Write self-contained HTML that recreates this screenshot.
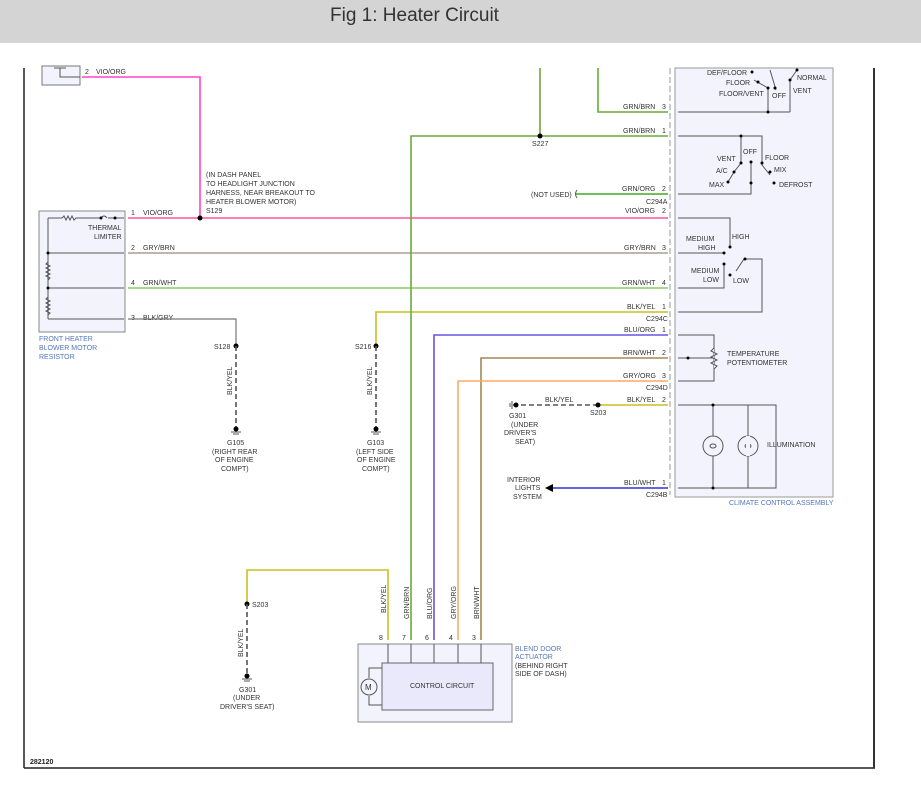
<!DOCTYPE html>
<html><head><meta charset="utf-8"><style>
html,body{margin:0;padding:0;background:#fff;}
svg{display:block;font-family:"Liberation Sans",sans-serif;}
.t{font-size:7px;fill:#333;}
.b{font-size:7px;fill:#5577bb;}
.w{fill:none;stroke-width:1.6;}
.k{fill:none;stroke:#555;stroke-width:1;}
</style></head><body>
<svg width="921" height="794" viewBox="0 0 921 794" xmlns="http://www.w3.org/2000/svg">
<rect x="0" y="0" width="921" height="43" fill="#d4d4d4"/>
<text x="330" y="21" font-size="19" fill="#333">Fig 1: Heater Circuit</text>
<!-- frame -->
<line x1="24" y1="68" x2="24" y2="768" stroke="#222" stroke-width="1.5"/>
<line x1="24" y1="768" x2="875" y2="768" stroke="#222" stroke-width="1.5"/>
<line x1="874" y1="68" x2="874" y2="768" stroke="#333" stroke-width="2"/>
<text x="30" y="764" font-size="7" font-weight="bold" fill="#222">282120</text>

<!-- climate control assembly -->
<rect x="675" y="68" width="158" height="429" fill="#f3f3fd" stroke="#999" stroke-width="1"/>
<line x1="670" y1="68" x2="670" y2="495" stroke="#999" stroke-dasharray="6,3"/>
<text x="729" y="505" class="b">CLIMATE CONTROL ASSEMBLY</text>

<!-- top left box -->
<rect x="42" y="66" width="38" height="19" fill="#f3f3fd" stroke="#777"/>
<path d="M60 68 V73 M54 68 H66 M60 73 V77 H80" class="k"/>
<text x="85" y="74" class="t">2</text><text x="96" y="74" class="t">VIO/ORG</text>
<path d="M82 77 H200 V218" class="w" stroke="#ff44cc"/>

<!-- resistor box -->
<rect x="39" y="211" width="86" height="121" fill="#f3f3fd" stroke="#888" stroke-width="1"/>
<path d="M48 218 V319 M48 218 H62 l2 -2 2 4 2 -4 2 4 2 -4 2 4 2 -2 H100 M108 218 H124 M48 253 H124 M48 288 H124 M48 319 H124" class="k"/>
<path d="M101 218 q3 -4 6 0" class="k"/>
<circle cx="101" cy="218" r="1.5" fill="#000"/><circle cx="115" cy="218" r="1.5" fill="#000"/>
<circle cx="48" cy="253" r="1.5" fill="#000"/><circle cx="48" cy="288" r="1.5" fill="#000"/>
<path d="M48 262 l-2 2 4 2 -4 2 4 2 -4 2 4 2 -4 2 4 2 -2 2 M48 297 l-2 2 4 2 -4 2 4 2 -4 2 4 2 -4 2 4 2 -2 2" class="k"/>
<text x="88" y="230" class="t">THERMAL</text><text x="94" y="239" class="t">LIMITER</text>
<text x="39" y="341" class="b">FRONT HEATER</text><text x="39" y="350" class="b">BLOWER MOTOR</text><text x="39" y="359" class="b">RESISTOR</text>
<text x="131" y="215" class="t">1</text><text x="143" y="215" class="t">VIO/ORG</text>
<text x="131" y="250" class="t">2</text><text x="143" y="250" class="t">GRY/BRN</text>
<text x="131" y="285" class="t">4</text><text x="143" y="285" class="t">GRN/WHT</text>
<text x="131" y="320" class="t">3</text><text x="143" y="320" class="t">BLK/GRY</text>

<!-- main wires -->
<path d="M128 218 H668" class="w" stroke="#ff5599"/>
<circle cx="200" cy="218" r="2.5" fill="#000"/>
<text x="206" y="177" class="t">(IN DASH PANEL</text><text x="206" y="186" class="t">TO HEADLIGHT JUNCTION</text>
<text x="206" y="195" class="t">HARNESS, NEAR BREAKOUT TO</text><text x="206" y="204" class="t">HEATER BLOWER MOTOR)</text>
<text x="206" y="213" class="t">S129</text>
<path d="M128 253 H668" class="w" stroke="#aaa08e"/>
<path d="M128 288 H668" class="w" stroke="#88cc66"/>
<path d="M128 319 H236 V346" fill="none" stroke="#777" stroke-width="1.2"/>
<circle cx="236" cy="346" r="2.5" fill="#000"/><text x="214" y="349" class="t">S128</text>
<path d="M236 346 V428" fill="none" stroke="#555" stroke-width="1.6" stroke-dasharray="5,3"/>
<circle cx="236" cy="429" r="2.5" fill="#000"/><path d="M231 432 H241 M233 434 H239" class="k"/>
<text x="232" y="395" class="t" transform="rotate(-90 232 395)">BLK/YEL</text>
<text x="227" y="445" class="t">G105</text><text x="212" y="454" class="t">(RIGHT REAR</text><text x="215" y="462" class="t">OF ENGINE</text><text x="221" y="471" class="t">COMPT)</text>

<path d="M376 346 V312 H668" class="w" stroke="#c8c020"/>
<circle cx="376" cy="346" r="2.5" fill="#000"/><text x="355" y="349" class="t">S216</text>
<path d="M376 346 V428" fill="none" stroke="#555" stroke-width="1.6" stroke-dasharray="5,3"/>
<circle cx="376" cy="429" r="2.5" fill="#000"/><path d="M371 432 H381 M373 434 H379" class="k"/>
<text x="372" y="395" class="t" transform="rotate(-90 372 395)">BLK/YEL</text>
<text x="367" y="445" class="t">G103</text><text x="356" y="454" class="t">(LEFT SIDE</text><text x="357" y="462" class="t">OF ENGINE</text><text x="362" y="471" class="t">COMPT)</text>

<path d="M411 640 V136 H668" class="w" stroke="#6aaa3a"/>
<path d="M540 68 V136" class="w" stroke="#7aa040"/>
<circle cx="540" cy="136" r="2.5" fill="#000"/><text x="532" y="146" class="t">S227</text>
<path d="M598 68 V112 H668" class="w" stroke="#6aaa3a"/>
<path d="M576 194 H668" class="w" stroke="#44aa22"/>
<path d="M577 190 q-3 4 0 8" class="k"/>
<text x="531" y="197" class="t">(NOT USED)</text>
<path d="M434 640 V335 H668" class="w" stroke="#6655dd"/>
<path d="M481 640 V358 H668" class="w" stroke="#a08a50"/>
<path d="M458 640 V381 H668" class="w" stroke="#ffaa66"/>
<path d="M513 405 H598" fill="none" stroke="#555" stroke-width="1.6" stroke-dasharray="5,3"/>
<path d="M598 405 H668" class="w" stroke="#c8c020"/>
<circle cx="598" cy="405" r="2.5" fill="#000"/><circle cx="516" cy="405" r="2.5" fill="#000"/>
<path d="M512 401 V409 M510 403 V407" class="k"/>
<text x="545" y="402" class="t">BLK/YEL</text><text x="590" y="415" class="t">S203</text>
<text x="509" y="418" class="t">G301</text><text x="511" y="427" class="t">(UNDER</text><text x="504" y="435" class="t">DRIVER'S</text><text x="515" y="444" class="t">SEAT)</text>
<path d="M552 488 H668" class="w" stroke="#3333cc"/>
<path d="M545 488 L553 484 V492 Z" fill="#000"/>
<text x="507" y="482" class="t">INTERIOR</text><text x="515" y="490" class="t">LIGHTS</text><text x="513" y="499" class="t">SYSTEM</text>

<!-- connector labels -->
<g class="t">
<text x="623" y="109">GRN/BRN</text><text x="662" y="109">3</text>
<text x="623" y="133">GRN/BRN</text><text x="662" y="133">1</text>
<text x="622" y="191">GRN/ORG</text><text x="662" y="191">2</text>
<text x="625" y="213">VIO/ORG</text><text x="662" y="213">2</text>
<text x="624" y="250">GRY/BRN</text><text x="662" y="250">3</text>
<text x="622" y="285">GRN/WHT</text><text x="662" y="285">4</text>
<text x="627" y="309">BLK/YEL</text><text x="662" y="309">1</text>
<text x="624" y="332">BLU/ORG</text><text x="662" y="332">1</text>
<text x="623" y="355">BRN/WHT</text><text x="662" y="355">2</text>
<text x="623" y="378">GRY/ORG</text><text x="662" y="378">3</text>
<text x="627" y="402">BLK/YEL</text><text x="662" y="402">2</text>
<text x="624" y="485">BLU/WHT</text><text x="662" y="485">1</text>
<text x="646" y="204">C294A</text><text x="646" y="321">C294C</text>
<text x="646" y="390">C294D</text><text x="646" y="497">C294B</text>
</g>

<!-- internal switches -->
<path d="M678 112 H790 M768 112 V88 M790 112 V80 L797 70 M678 136 H762 V165 L770 175 M741 136 V163 L734 172 L728 182 M678 194 H751 V162 M678 218 H730 V247 M678 253 H725 M678 288 H724 V264 M736 271 L744 259 H762 V312 H678 M678 335 H714 V381 H678 M678 358 H714 M678 405 H776 V488 H678 M713 405 V488" class="k"/>
<path d="M768 88 L754 80" class="k"/><path d="M776 90 L770 70" class="k"/>
<g fill="#000">
<circle cx="768" cy="112" r="1.5"/><circle cx="768" cy="88" r="1.5"/><circle cx="752" cy="72" r="1.5"/><circle cx="758" cy="82" r="1.5"/><circle cx="790" cy="80" r="1.5"/><circle cx="797" cy="70" r="1.5"/><circle cx="775" cy="88" r="1.5"/>
<circle cx="741" cy="136" r="1.5"/><circle cx="741" cy="163" r="1.5"/><circle cx="734" cy="172" r="1.5"/><circle cx="728" cy="182" r="1.5"/>
<circle cx="751" cy="162" r="1.5"/><circle cx="751" cy="183" r="1.5"/><circle cx="762" cy="163" r="1.5"/><circle cx="770" cy="172" r="1.5"/><circle cx="774" cy="183" r="1.5"/>
<circle cx="730" cy="247" r="1.5"/><circle cx="724" cy="253" r="1.5"/><circle cx="724" cy="264" r="1.5"/><circle cx="730" cy="275" r="1.5"/><circle cx="745" cy="259" r="1.5"/>
<circle cx="688" cy="358" r="1.5"/><circle cx="713" cy="405" r="1.5"/><circle cx="713" cy="488" r="1.5"/>
</g>
<path d="M714 348 l-3 3 6 3 -6 3 6 3 -6 3 6 3 -3 3" fill="#f3f3fd" stroke="#555"/>
<circle cx="713" cy="446" r="10" fill="#f3f3fd" stroke="#555"/><circle cx="748" cy="446" r="10" fill="#f3f3fd" stroke="#555"/>
<ellipse cx="713" cy="446" rx="3" ry="2" fill="none" stroke="#555"/><ellipse cx="748" cy="446" rx="3" ry="2" fill="none" stroke="#555"/>
<rect x="746" y="436" width="4" height="20" fill="#f3f3fd"/><path d="M748 405 V436 M748 456 V488" class="k"/>
<g class="t">
<text x="707" y="75">DEF/FLOOR</text><text x="726" y="85">FLOOR</text><text x="719" y="96">FLOOR/VENT</text>
<text x="772" y="98">OFF</text><text x="797" y="80">NORMAL</text><text x="793" y="93">VENT</text>
<text x="717" y="161">VENT</text><text x="716" y="173">A/C</text><text x="709" y="187">MAX</text>
<text x="743" y="154">OFF</text><text x="765" y="160">FLOOR</text><text x="774" y="172">MIX</text><text x="779" y="187">DEFROST</text>
<text x="686" y="241">MEDIUM</text><text x="698" y="250">HIGH</text><text x="732" y="239">HIGH</text>
<text x="691" y="273">MEDIUM</text><text x="703" y="282">LOW</text><text x="733" y="283">LOW</text>
<text x="727" y="356">TEMPERATURE</text><text x="727" y="365">POTENTIOMETER</text>
<text x="767" y="447">ILLUMINATION</text>
</g>

<!-- blend door actuator -->
<path d="M388 640 V570 H247 V604" class="w" stroke="#c8c020"/>
<circle cx="247" cy="604" r="2.5" fill="#000"/><text x="252" y="607" class="t">S203</text>
<path d="M247 604 V674" fill="none" stroke="#555" stroke-width="1.6" stroke-dasharray="5,3"/>
<circle cx="247" cy="676" r="2.5" fill="#000"/><path d="M242 679 H252 M244 681 H250" class="k"/>
<text x="243" y="657" class="t" transform="rotate(-90 243 657)">BLK/YEL</text>
<text x="239" y="692" class="t">G301</text><text x="233" y="700" class="t">(UNDER</text><text x="220" y="709" class="t">DRIVER'S SEAT)</text>
<rect x="358" y="644" width="154" height="78" fill="#f3f3fd" stroke="#888"/>
<rect x="382" y="663" width="111" height="47" fill="#e9e9fb" stroke="#666"/>
<path d="M388 644 V663 M411 644 V663 M434 644 V663 M458 644 V663 M481 644 V663 M382 668 H369 V678 M382 705 H369 V696" class="k"/>
<circle cx="369" cy="687" r="8" fill="#f3f3fd" stroke="#555"/>
<text x="365" y="690" font-size="8" fill="#333">M</text>
<text x="410" y="688" class="t">CONTROL CIRCUIT</text>
<g class="t">
<text x="386" y="613" transform="rotate(-90 386 613)">BLK/YEL</text>
<text x="409" y="619" transform="rotate(-90 409 619)">GRN/BRN</text>
<text x="432" y="619" transform="rotate(-90 432 619)">BLU/ORG</text>
<text x="456" y="619" transform="rotate(-90 456 619)">GRY/ORG</text>
<text x="479" y="619" transform="rotate(-90 479 619)">BRN/WHT</text>
<text x="379" y="640">8</text><text x="402" y="640">7</text><text x="425" y="640">6</text><text x="449" y="640">4</text><text x="472" y="640">3</text>
</g>
<text x="515" y="651" class="b">BLEND DOOR</text><text x="515" y="659" class="b">ACTUATOR</text>
<text x="515" y="668" class="t">(BEHIND RIGHT</text><text x="515" y="676" class="t">SIDE OF DASH)</text>
</svg>
</body></html>
